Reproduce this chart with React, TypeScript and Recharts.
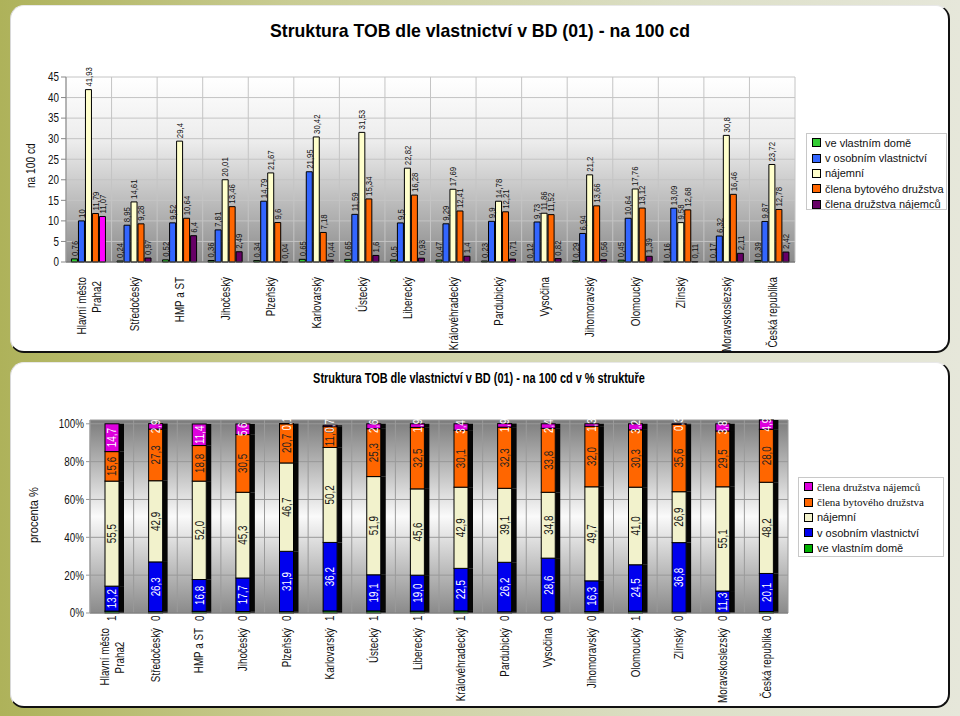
import React from 'react';
import { BarChart, Bar, XAxis, YAxis, CartesianGrid, LabelList, Cell } from 'recharts';

const SANS = "'Liberation Sans', Arial, sans-serif";
const NARROW_K = 0.82;

// ---------- data ----------
const categories = [
  'Hlavní město|Praha2', 'Středočeský', 'HMP a ST', 'Jihočeský', 'Plzeňský', 'Karlovarský',
  'Ústecký', 'Liberecký', 'Královéhradecký', 'Pardubický', 'Vysočina', 'Jihomoravský',
  'Olomoucký', 'Zlínský', 'Moravskoslezský', 'Česká republika',
];

const seriesNames = [
  've vlastním domě',
  'v osobním vlastnictví',
  'nájemní',
  'člena bytového družstva',
  'člena družstva nájemců',
];

// top chart: na 100 cd
const vlastniDum = [0.76, 0.24, 0.52, 0.36, 0.34, 0.65, 0.65, 0.5, 0.47, 0.23, 0.12, 0.29, 0.45, 0.16, 0.17, 0.39];
const osobniVlastnictvi = [10, 8.95, 9.52, 7.81, 14.79, 21.95, 11.59, 9.5, 9.29, 9.9, 9.73, 6.94, 10.64, 13.09, 6.32, 9.87];
const najemni = [41.93, 14.61, 29.4, 20.01, 21.67, 30.42, 31.53, 22.82, 17.69, 14.78, 11.86, 21.2, 17.76, 9.58, 30.8, 23.72];
const clenaBD = [11.79, 9.28, 10.64, 13.46, 9.6, 7.18, 15.34, 16.28, 12.41, 12.21, 11.52, 13.66, 13.12, 12.68, 16.46, 12.78];
const clenaDN = [11.07, 0.97, 6.4, 2.49, 0.04, 0.44, 1.6, 0.93, 1.4, 0.71, 0.82, 0.56, 1.39, 0.11, 2.11, 2.42];

// bottom chart: % structure
const pctVlastniDum = [1.0, 0.7, 0.9, 0.8, 0.7, 1.1, 1.1, 1.0, 1.1, 0.6, 0.4, 0.7, 1.0, 0.4, 0.3, 0.8];
const pctOsobni = [13.2, 26.3, 16.8, 17.7, 31.9, 36.2, 19.1, 19.0, 22.5, 26.2, 28.6, 16.3, 24.5, 36.8, 11.3, 20.1];
const pctNajemni = [55.5, 42.9, 52.0, 45.3, 46.7, 50.2, 51.9, 45.6, 42.9, 39.1, 34.8, 49.7, 41.0, 26.9, 55.1, 48.2];
const pctClenaBD = [15.6, 27.3, 18.8, 30.5, 20.7, 11.0, 25.3, 32.5, 30.1, 32.3, 33.8, 32.0, 30.3, 35.6, 29.5, 28.0];
const pctClenaDN = [14.7, 2.9, 11.4, 5.6, 0.1, 0.7, 2.6, 1.9, 3.4, 1.9, 2.4, 1.3, 3.2, 0.3, 3.8, 4.9];

const topTicks = [0, 5, 10, 15, 20, 25, 30, 35, 40, 45];
const pctTicks = [0, 20, 40, 60, 80, 100];

const topTitle = 'Struktura TOB dle vlastnictví v BD (01) -  na 100 cd';
const bottomTitle = 'Struktura TOB dle vlastnictví v BD (01) -  na 100 cd v % struktuře';
const topYLabel = 'na 100 cd';
const bottomYLabel = 'procenta %';

// ---------- styles ----------
const topColors = ['#33cc33', '#3366ff', '#ffffcc', '#ff6600', '#660066'];
const topSpecialFirst = '#ff00ff';
const botColors = ['#00b000', '#0000ee', '#f2f2cc', '#ff6600', '#dd00dd'];
const botLabelColors = ['#000', '#ffffff', '#111', '#222', '#ffffff'];

const topData = categories.map((c, i) => ({
  name: c,
  s0: vlastniDum[i],
  s1: osobniVlastnictvi[i],
  s2: najemni[i],
  s3: clenaBD[i],
  s4: clenaDN[i],
}));

const botData = categories.map((c, i) => ({
  name: c,
  s0: pctVlastniDum[i],
  s1: pctOsobni[i],
  s2: pctNajemni[i],
  s3: pctClenaBD[i],
  s4: pctClenaDN[i],
}));

const fmt = (v: number) => String(v).replace('.', ',');
const fmt1 = (v: number) => v.toFixed(1).replace('.', ',');

const boundaryLines = (n: number) => (props: any) => {
  const { offset } = props;
  const w = offset.width / n;
  return Array.from({ length: n + 1 }, (_, i) => offset.left + i * w);
};

// rotated text, squeezed along its length
const VText = ({ x, y, anchor, size, fill, children }: any) => (
  <text transform={`translate(${x},${y}) rotate(-90) scale(${NARROW_K},1)`} x={0} y={0}
    textAnchor={anchor} dominantBaseline="central" fontSize={size} fontFamily={SANS} fill={fill}>
    {children}
  </text>
);

const makeTick = (dy: number, centerSecond: boolean, fontSize: number) => (props: any) => {
  const { x, y, payload } = props;
  const lines = String(payload.value).split('|');
  const n = lines.length;
  const lh = 15;
  return (
    <g>
      {lines.map((ln, i) => {
        const off = (i - (n - 1) / 2) * lh;
        if (i > 0 && centerSecond) {
          const half = lines[0].length * fontSize * 0.25 * NARROW_K;
          return <VText key={i} x={x + off} y={y + dy + half} anchor="middle" size={fontSize} fill="#111">{ln}</VText>;
        }
        return <VText key={i} x={x + off} y={y + dy + (i > 0 ? 4 : 0)} anchor="end" size={fontSize} fill="#111">{ln}</VText>;
      })}
    </g>
  );
};

const makeYTick = (fmtFn: (v: number) => string) => (props: any) => {
  const { x, y, payload } = props;
  return (
    <text transform={`translate(${x},${y}) scale(${NARROW_K},1)`} x={0} y={0} textAnchor="end"
      dominantBaseline="central" fontSize={12} fontFamily={SANS} fill="#111">{fmtFn(payload.value)}</text>
  );
};

const TopLabel = (props: any) => {
  const { x, y, width, value } = props;
  return <VText x={x + width / 2} y={y - 3} anchor="start" size={9.5} fill="#111">{fmt(value)}</VText>;
};

const makeSegLabel = (color: string) => (props: any) => {
  const { x, y, width, height, value } = props;
  return <VText x={x + width / 2} y={y + height / 2} anchor="middle" size={12} fill={color}>{fmt1(value)}</VText>;
};

const GreenBaseLabel = (props: any) => {
  const { x, y, width, height, value } = props;
  return <VText x={x + width / 2} y={y + height + 8} anchor="start" size={12} fill="#111">{fmt1(value).split(',')[0]}</VText>;
};

const Bar3D = (props: any) => {
  const { x, y, width, height, fill } = props;
  if (height == null || width == null) return null;
  return (
    <g>
      <rect x={x + width} y={y} width={5} height={height} fill="#050505" />
      <rect x={x} y={y} width={width} height={height} fill={fill} stroke="#000" strokeWidth={1} />
    </g>
  );
};

const LegendBox = ({ items, style, fonts }: { items: { name: string; color: string }[]; style: React.CSSProperties; fonts?: string[] }) => (
  <div style={{
    position: 'absolute', background: '#fff', border: '1px solid #c8c8c8', overflow: 'hidden',
    padding: '1px 0 0 5px', boxSizing: 'border-box', ...style,
  }}>
    {items.map((it, i) => (
      <div key={i} style={{ display: 'flex', alignItems: 'center', height: 15.4, whiteSpace: 'nowrap' }}>
        <span style={{ width: 7, height: 7, background: it.color, border: '1px solid #000', marginRight: 4, flex: 'none' }} />
        <span style={{ fontFamily: fonts ? fonts[i] : SANS, fontSize: 11, color: '#111' }}>{it.name}</span>
      </div>
    ))}
  </div>
);

export default function App() {
  return (
    <div style={{
      position: 'absolute', left: 0, top: 0, width: 960, height: 716, overflow: 'hidden',
      background: 'linear-gradient(90deg, #aeb25a 0%, #c9cc93 30%, #dcdfc6 70%, #e6e7da 100%)',
    }}>
      {/* panels */}
      <div style={{
        position: 'absolute', left: 10, top: 5, width: 940, height: 348, background: '#fff',
        borderRadius: 14, borderRight: '2px solid #111', borderBottom: '2px solid #111',
        borderLeft: '1px solid #d8d8d8', borderTop: '1px solid #e8e8e8', boxSizing: 'border-box',
      }} />
      <div style={{
        position: 'absolute', left: 10, top: 362, width: 940, height: 346, background: '#fff',
        borderRadius: 14, borderRight: '2px solid #111', borderBottom: '2px solid #111',
        borderLeft: '1px solid #d8d8d8', borderTop: '1px solid #e8e8e8', boxSizing: 'border-box',
      }} />

      {/* top chart */}
      <div style={{ position: 'absolute', left: 0, top: 20, width: 960, textAlign: 'center',
        fontFamily: SANS, fontWeight: 'bold', fontSize: 19, color: '#000',
        transform: 'scaleX(0.93)', transformOrigin: '480px 0' }}>{topTitle}</div>
      <div style={{ position: 'absolute', left: 24, top: 140, width: 16, height: 52 }}>
        <div style={{ writingMode: 'vertical-rl', transform: 'rotate(180deg) scaleY(0.85)', height: 52,
          textAlign: 'center', fontFamily: SANS, fontSize: 12, color: '#111', whiteSpace: 'nowrap' }}>{topYLabel}</div>
      </div>
      <div style={{ position: 'absolute', left: 0, top: 0 }}>
        <BarChart width={960} height={352} data={topData}
          margin={{ top: 77, right: 165, left: 0, bottom: 0 }}
          barCategoryGap="12%" barGap={1}>
          <defs>
            <linearGradient id="topBg" x1="0" y1="0" x2="0" y2="1">
              <stop offset="0%" stopColor="#ffffff" />
              <stop offset="35%" stopColor="#ececec" />
              <stop offset="100%" stopColor="#8c8c8c" />
            </linearGradient>
          </defs>
          <CartesianGrid fill="url(#topBg)" stroke="#c4c4c4" strokeWidth={1}
            verticalCoordinatesGenerator={boundaryLines(categories.length)} />
          <XAxis dataKey="name" interval={0} tickLine={false} height={90}
            axisLine={{ stroke: '#555' }} tick={makeTick(7, false, 12)} />
          <YAxis domain={[0, 45]} ticks={topTicks} width={66} tickSize={5} interval={0}
            axisLine={{ stroke: '#888' }} tickLine={{ stroke: '#888' }}
            tick={makeYTick((v) => String(v))} />
          {[0, 1, 2, 3, 4].map((k) => (
            <Bar key={k} dataKey={`s${k}`} name={seriesNames[k]} fill={topColors[k]}
              stroke="#000" strokeWidth={1} isAnimationActive={false}>
              {k === 4 && topData.map((d, i) => (
                <Cell key={d.name} fill={i === 0 ? topSpecialFirst : topColors[4]} />
              ))}
              <LabelList dataKey={`s${k}`} content={TopLabel} />
            </Bar>
          ))}
        </BarChart>
      </div>
      <LegendBox
        style={{ left: 806, top: 133, width: 141, height: 77 }}
        items={seriesNames.map((n, i) => ({ name: n, color: topColors[i] }))}
      />

      {/* bottom chart */}
      <div style={{ position: 'absolute', left: 0, top: 370, width: 958, textAlign: 'center',
        fontFamily: SANS, fontWeight: 'bold', fontSize: 14, color: '#000',
        transform: 'scaleX(0.78)', transformOrigin: '479px 0' }}>{bottomTitle}</div>
      <div style={{ position: 'absolute', left: 26, top: 480, width: 16, height: 70 }}>
        <div style={{ writingMode: 'vertical-rl', transform: 'rotate(180deg) scaleY(0.85)', height: 70, textAlign: 'center',
          fontFamily: SANS, fontSize: 13, color: '#111', whiteSpace: 'nowrap' }}>{bottomYLabel}</div>
      </div>
      <div style={{ position: 'absolute', left: 0, top: 352 }}>
        <BarChart width={960} height={364} data={botData}
          margin={{ top: 68, right: 172, left: 0, bottom: 0 }} barSize={14}>
          <defs>
            <linearGradient id="botBg" x1="0" y1="0" x2="0" y2="1">
              <stop offset="0%" stopColor="#7c7c7c" />
              <stop offset="50%" stopColor="#fafafa" />
              <stop offset="100%" stopColor="#8a8a8a" />
            </linearGradient>
          </defs>
          <CartesianGrid fill="url(#botBg)" stroke="#9a9a9a" strokeWidth={1}
            verticalCoordinatesGenerator={boundaryLines(categories.length)} />
          <XAxis dataKey="name" interval={0} tickLine={false} height={103}
            axisLine={{ stroke: '#777' }} tick={makeTick(7, true, 12)} />
          <YAxis domain={[0, 100]} ticks={pctTicks} width={90} tickSize={4} interval={0}
            axisLine={{ stroke: '#999' }} tickLine={{ stroke: '#999' }}
            tick={makeYTick((v) => `${v}%`)} />
          {[0, 1, 2, 3, 4].map((k) => (
            <Bar key={k} dataKey={`s${k}`} name={seriesNames[k]} stackId="a" fill={botColors[k]}
              shape={Bar3D} isAnimationActive={false}>
              <LabelList dataKey={`s${k}`} content={k === 0 ? GreenBaseLabel : makeSegLabel(botLabelColors[k])} />
            </Bar>
          ))}
        </BarChart>
      </div>
      <LegendBox
        style={{ left: 798, top: 477, width: 146, height: 80 }}
        fonts={['Liberation Serif, serif', 'Liberation Serif, serif', SANS, SANS, SANS]}
        items={[4, 3, 2, 1, 0].map((i) => ({ name: seriesNames[i], color: botColors[i] }))}
      />
    </div>
  );
}
